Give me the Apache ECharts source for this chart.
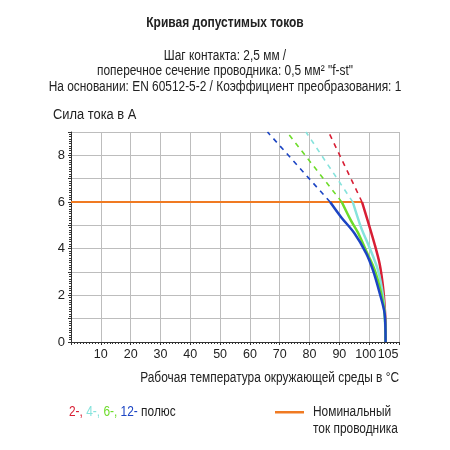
<!DOCTYPE html>
<html>
<head>
<meta charset="utf-8">
<script src="https://cdn.jsdelivr.net/npm/echarts@6/dist/echarts.min.js"></script>
<style>
  html, body { margin: 0; padding: 0; background: #fff; }
  #chart { width: 450px; height: 450px; }
</style>
</head>
<body>
<div id="chart"></div>
<script>
// derating curves: [temperature °C, current A]
var pole2 = [[97.6, 6], [99.5, 5.2], [101.8, 4.2], [103.5, 3.35], [104.6, 2.4], [105.2, 1.5], [105.5, 0.6], [105.5, 0]];
var pole4 = [[94.5, 6], [97.3, 4.9], [100.1, 4.05], [102.9, 3.1], [104.5, 2.1], [105.2, 1.2], [105.5, 0]];
var pole6 = [[90.8, 6], [93.9, 5.2], [96.2, 4.7], [99, 3.9], [101.8, 3.1], [104, 2.1], [105.2, 1.2], [105.5, 0]];
var pole12 = [[86.9, 6], [90.6, 5.35], [95.1, 4.65], [99, 3.8], [101.2, 3.1], [103.5, 2.1], [105.2, 1.2], [105.5, 0]];

// dashed extensions above rated current
var pole2Ext = [[97.6, 6], [86.4, 9]];
var pole4Ext = [[94.5, 6], [78.8, 9]];
var pole6Ext = [[90.8, 6], [72.4, 9]];
var pole12Ext = [[86.9, 6], [65.9, 9]];

var ratedCurrent = [[0, 6], [97.6, 6]];

var xLabels = [10, 20, 30, 40, 50, 60, 70, 80, 90, 100];
var xExtraLabels = [105];
var yLabels = [0, 2, 4, 6, 8];

var poleNames = ['2-', '4-', '6-', '12-'];
var colors = ['#d81e34', '#86e3dc', '#6ddc2a', '#1c45c4'];
var orange = '#f07a22';
var font = '"Liberation Sans", Arial, sans-serif';
var ink = '#222';
var narrow = 0.85; // the source uses a condensed face

var chart = echarts.init(document.getElementById('chart'));

function solid(data, i) {
  return {
    type: 'line', data: data, symbol: 'none', smooth: 0.3, z: 3,
    lineStyle: { color: colors[i], width: 2.5 }
  };
}
function dashed(data, i) {
  return {
    type: 'line', data: data, symbol: 'none', z: 2,
    lineStyle: { color: colors[i], width: 1.6, type: [5, 5] }
  };
}
function txt(x, y, s, size, align, weight, sx) {
  return {
    type: 'text', x: x, y: y, scaleX: sx || narrow,
    style: { text: s, fill: ink, font: (weight || 'normal') + ' ' + size + 'px ' + font, align: align || 'left', verticalAlign: 'middle' }
  };
}

var poleText = poleNames.map(function (p, i) {
  return '{p' + i + '|' + p + (i < poleNames.length - 1 ? ', ' : ' ') + '}';
}).join('') + '{e|полюс}';
var poleRich = { e: { fill: ink, font: '14px ' + font } };
poleNames.forEach(function (p, i) { poleRich['p' + i] = { fill: colors[i], font: '14px ' + font }; });

var option = {
  animation: false,
  textStyle: { fontFamily: font, color: ink },
  graphic: [
    txt(225, 23, 'Кривая допустимых токов', 15, 'center', 'bold', 0.8),
    txt(225, 56, 'Шаг контакта: 2,5 мм /', 14, 'center'),
    txt(225, 71, 'поперечное сечение проводника: 0,5 мм² "f-st"', 14, 'center'),
    txt(225, 87, 'На основании: EN 60512-5-2 / Коэффициент преобразования: 1', 14, 'center'),
    txt(53, 115, 'Сила тока в А', 14, 'left', 'normal', 0.92),
    txt(399, 378, 'Рабочая температура окружающей среды в °С', 14, 'right'),
    {
      type: 'text', x: 69, y: 412, scaleX: narrow,
      style: { text: poleText, rich: poleRich, font: '14px ' + font, align: 'left', verticalAlign: 'middle' }
    },
    { type: 'rect', shape: { x: 275, y: 411, width: 29, height: 2.5 }, style: { fill: orange } },
    txt(313, 412, 'Номинальный', 14, 'left'),
    txt(313, 429, 'ток проводника', 14, 'left')
  ],
  grid: { left: 71, right: 51, top: 132, bottom: 108 },
  xAxis: [{
    type: 'value', min: 0, max: 110, interval: 10,
    axisLine: { show: true, lineStyle: { color: '#333', width: 1 } },
    axisTick: { show: true, length: 3, lineStyle: { color: '#333' } },
    minorTick: { show: true, splitNumber: 10, length: 2, lineStyle: { color: '#333' } },
    axisLabel: {
      customValues: xLabels, color: ink, fontSize: 12.5, fontFamily: font, margin: 6,
      formatter: function (v) { return v === 100 ? '{l|100}' : v; },
      rich: { l: { fontSize: 12.5, fontFamily: font, color: ink, padding: [0, 7, 0, 0] } }
    },
    splitLine: { show: true, lineStyle: { color: '#bdbdbd', width: 1 } }
  }, {
    // overlay axis that only carries the 105 label
    type: 'value', min: 0, max: 110, position: 'bottom',
    axisLine: { show: false }, axisTick: { show: false }, splitLine: { show: false },
    axisLabel: {
      customValues: xExtraLabels, color: ink, fontSize: 12.5, fontFamily: font, margin: 6,
      formatter: '{r|{value}}',
      rich: { r: { fontSize: 12.5, fontFamily: font, color: ink, padding: [0, 0, 0, 8] } }
    }
  }],
  yAxis: {
    type: 'value', min: 0, max: 9, interval: 1,
    axisLine: { show: true, lineStyle: { color: '#333', width: 1 } },
    axisTick: { show: true, length: 3, lineStyle: { color: '#333' } },
    minorTick: { show: true, splitNumber: 10, length: 2, lineStyle: { color: '#333' } },
    axisLabel: { customValues: yLabels, color: ink, fontSize: 13, fontFamily: font, margin: 6 },
    splitLine: { show: true, lineStyle: { color: '#bdbdbd', width: 1 } }
  },
  series: [
    { name: 'Номинальный ток проводника', type: 'line', data: ratedCurrent, symbol: 'none', z: 1,
      color: orange, lineStyle: { color: orange, width: 2 } },
    dashed(pole12Ext, 3), dashed(pole6Ext, 2), dashed(pole4Ext, 1), dashed(pole2Ext, 0),
    solid(pole2, 0), solid(pole4, 1), solid(pole6, 2), solid(pole12, 3)
  ]
};

chart.setOption(option);
</script>
</body>
</html>
